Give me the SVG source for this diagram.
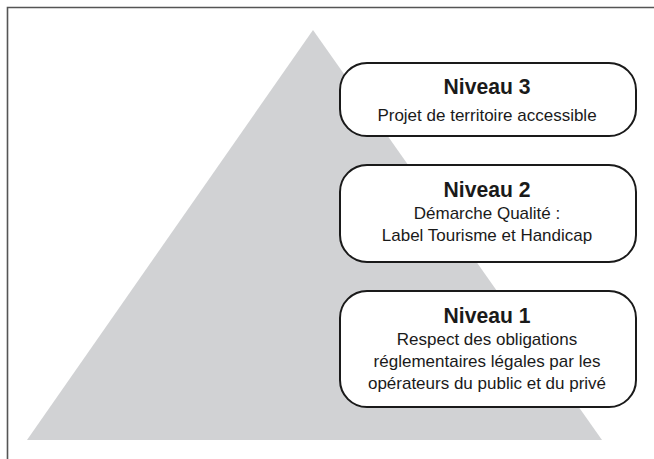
<svg xmlns="http://www.w3.org/2000/svg" width="654" height="459" viewBox="0 0 654 459">
<style>
.frame{stroke:#555;stroke-width:1.6;fill:none}
.box{fill:#fff;stroke:#1a1a1a;stroke-width:2}
.t{font-family:"Liberation Sans",Arial,sans-serif;fill:#1a1a1a;text-anchor:middle}
.h{font-size:22px;font-weight:bold}
.b{font-size:17px}
</style>
<rect width="654" height="459" fill="#fff"/>
<path class="frame" d="M7.5,459 V7.5 H654"/>
<polygon id="pyramid" points="313,30 602,440 27,440" fill="#d1d2d4"/>
<g id="connectors"></g>
<g id="niveau3">
<rect class="box" x="340" y="63" width="296" height="73" rx="27" ry="27"/>
<text class="t h" x="487" y="94" textLength="87" lengthAdjust="spacingAndGlyphs">Niveau 3</text>
<text class="t b" x="487" y="121">Projet de territoire accessible</text>
</g>
<g id="niveau2">
<rect class="box" x="340" y="165" width="296" height="97" rx="27" ry="27"/>
<text class="t h" x="487" y="197" textLength="87" lengthAdjust="spacingAndGlyphs">Niveau 2</text>
<text class="t b" x="487" y="219">Démarche Qualité :</text>
<text class="t b" x="487" y="241">Label Tourisme et Handicap</text>
</g>
<g id="niveau1">
<rect class="box" x="340" y="291" width="296" height="116" rx="27" ry="27"/>
<text class="t h" x="487" y="323" textLength="87" lengthAdjust="spacingAndGlyphs">Niveau 1</text>
<text class="t b" x="487" y="345">Respect des obligations</text>
<text class="t b" x="487" y="367">réglementaires légales par les</text>
<text class="t b" x="487" y="389">opérateurs du public et du privé</text>
</g>
</svg>
